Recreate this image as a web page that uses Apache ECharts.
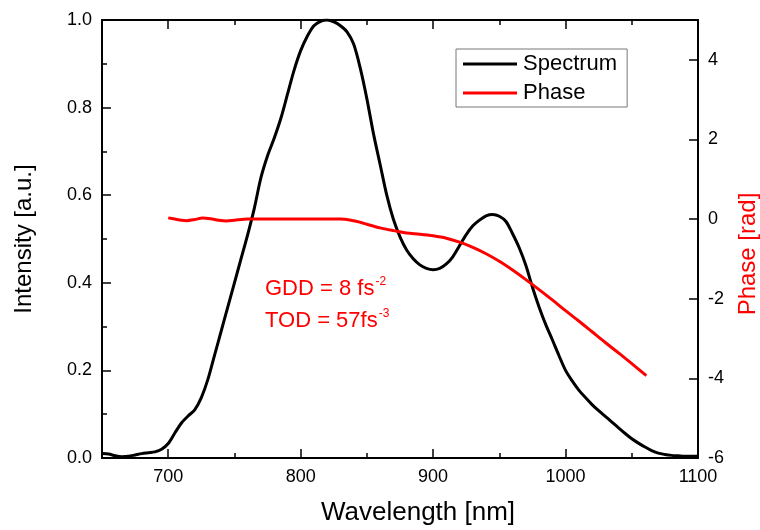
<!DOCTYPE html>
<html>
<head>
<meta charset="utf-8">
<script src="https://cdn.jsdelivr.net/npm/echarts@6/dist/echarts.min.js"></script>
<style>
html,body{margin:0;padding:0;background:#fff;}
#chart{width:760px;height:530px;}
</style>
</head>
<body>
<div id="chart"></div>
<script>
// ---- data ----
var spectrumWl = [650,655,660,665,670,675,680,685,690,695,700,705,710,715,720,725,730,735,740,745,750,755,760,765,770,775,780,785,790,795,800,805,810,815,820,825,830,835,840,845,850,855,860,865,870,875,880,885,890,895,900,905,910,915,920,925,930,935,940,945,950,955,960,965,970,975,980,985,990,995,1000,1005,1010,1015,1020,1025,1030,1035,1040,1045,1050,1055,1060,1065,1070,1075,1080,1085,1090,1095,1100];
var spectrumVal = [0.010,0.009,0.005,0.003,0.004,0.007,0.010,0.012,0.014,0.020,0.033,0.057,0.080,0.096,0.110,0.138,0.180,0.235,0.290,0.345,0.400,0.455,0.510,0.570,0.640,0.690,0.730,0.775,0.830,0.885,0.930,0.963,0.987,0.997,1.000,0.996,0.987,0.973,0.945,0.890,0.820,0.740,0.670,0.600,0.545,0.505,0.475,0.455,0.441,0.433,0.430,0.433,0.443,0.460,0.485,0.510,0.530,0.543,0.553,0.556,0.552,0.540,0.512,0.480,0.440,0.390,0.345,0.305,0.270,0.234,0.200,0.176,0.155,0.138,0.122,0.108,0.095,0.082,0.069,0.056,0.044,0.034,0.025,0.017,0.011,0.008,0.006,0.005,0.004,0.004,0.004];
var phaseWl = [700,705,710,714,720,726,732,738,744,750,760,780,800,820,830,840,845,850,860,870,875,880,890,900,910,920,930,940,950,960,970,980,990,1000,1010,1020,1030,1040,1050,1061];
var phaseVal = [0.03,0.0,-0.03,-0.04,-0.01,0.03,0.01,-0.03,-0.05,-0.03,0.0,0.0,0.0,0.0,0.0,-0.04,-0.08,-0.13,-0.22,-0.29,-0.32,-0.35,-0.38,-0.42,-0.48,-0.58,-0.71,-0.87,-1.06,-1.28,-1.52,-1.77,-2.03,-2.3,-2.56,-2.83,-3.1,-3.36,-3.63,-3.93];
var xMajorTicks = [700,800,900,1000,1100];
var xMinorTicks = [750,850,950,1050];
var phaseTicks = [-6,-4,-2,0,2,4];
var seriesNames = ['Spectrum','Phase'];
var annotationLines = [['GDD = 8 fs','-2'],['TOD = 57fs','-3']];

var FONT = 'Liberation Sans, Arial, sans-serif';
function pairs(xs, ys){ return xs.map(function(x,i){return [x, ys[i]];}); }

function xAx(extra){
  var o = {type:'value', min:650, max:1100, splitLine:{show:false}};
  for (var k in extra) o[k]=extra[k];
  return o;
}
var tickLS = {color:'#000', width:1.5};

var chart = echarts.init(document.getElementById('chart'), null, {renderer:'canvas'});
chart.setOption({
  animation:false,
  backgroundColor:'#fff',
  grid:{left:102, right:62, top:20, bottom:72, containLabel:false, outerBoundsMode:'none'},
  legend:{
    orient:'vertical', left:456, top:49,
    data:[{name:seriesNames[0], icon:'rect'},{name:seriesNames[1], icon:'rect'}],
    itemWidth:54, itemHeight:3, itemGap:7,
    padding:[4,10,3,7],
    borderColor:'#777', borderWidth:1,
    textStyle:{fontFamily:FONT, fontSize:22, color:'#000', lineHeight:22, padding:[0,0,0,1]}
  },
  xAxis:[
    xAx({position:'bottom', name:'Wavelength [nm]', nameLocation:'middle', nameGap:42,
      nameTextStyle:{fontFamily:FONT, fontSize:26, color:'#000', padding:[0,0,0,36]},
      axisLine:{show:true, onZero:false, lineStyle:{color:'#000', width:2}},
      axisTick:{show:true, inside:true, length:9, customValues:xMajorTicks, lineStyle:tickLS},
      axisLabel:{show:true, customValues:xMajorTicks, fontFamily:FONT, fontSize:18, color:'#000', margin:10,
        formatter:function(v){return String(v);}}}),
    xAx({position:'bottom',
      axisLine:{show:false, onZero:false},
      axisTick:{show:true, inside:true, length:5, customValues:xMinorTicks, lineStyle:tickLS},
      axisLabel:{show:false}}),
    xAx({position:'top',
      axisLine:{show:true, onZero:false, lineStyle:{color:'#000', width:2}},
      axisTick:{show:true, inside:true, length:9, customValues:xMajorTicks, lineStyle:tickLS},
      axisLabel:{show:false}}),
    xAx({position:'top',
      axisLine:{show:false, onZero:false},
      axisTick:{show:true, inside:true, length:5, customValues:xMinorTicks, lineStyle:tickLS},
      axisLabel:{show:false}})
  ],
  yAxis:[
    {type:'value', position:'left', min:0, max:1, interval:0.2,
      name:'Intensity [a.u.]', nameLocation:'middle', nameGap:66,
      nameTextStyle:{fontFamily:FONT, fontSize:24, color:'#000'},
      splitLine:{show:false},
      axisLine:{show:true, onZero:false, lineStyle:{color:'#000', width:2}},
      axisTick:{show:true, inside:true, length:9, lineStyle:tickLS},
      minorTick:{show:true, splitNumber:2, length:5, lineStyle:tickLS},
      axisLabel:{fontFamily:FONT, fontSize:18, color:'#000', margin:10, formatter:function(v){return v.toFixed(1);}}},
    {type:'value', position:'right', min:-6, max:5, interval:2,
      name:'Phase [rad]', nameLocation:'middle', nameGap:38,
      nameTextStyle:{fontFamily:FONT, fontSize:24, color:'#ff0000', padding:[0,30,0,0]},
      splitLine:{show:false},
      axisLine:{show:true, onZero:false, lineStyle:{color:'#000', width:2}},
      axisTick:{show:true, inside:true, length:9, customValues:phaseTicks, lineStyle:tickLS},
      axisLabel:{fontFamily:FONT, fontSize:18, color:'#000', margin:10, customValues:phaseTicks,
        formatter:function(v){return String(v);}}}
  ],
  series:[
    {name:seriesNames[0], type:'line', xAxisIndex:0, yAxisIndex:0, data:pairs(spectrumWl, spectrumVal),
      smooth:0.3, showSymbol:false, symbol:'none', color:'#000',
      lineStyle:{color:'#000', width:3}, z:3},
    {name:seriesNames[1], type:'line', xAxisIndex:0, yAxisIndex:1, data:pairs(phaseWl, phaseVal),
      smooth:0.3, showSymbol:false, symbol:'none', color:'#ff0000',
      lineStyle:{color:'#ff0000', width:3}, z:4}
  ],
  graphic:[
    {type:'text', left:265, top:276,
      style:{
        text: annotationLines.map(function(l){return '{m|'+l[0]+'}{s|'+l[1]+'}';}).join('\n'),
        rich:{
          m:{fontFamily:FONT, fontSize:22, fill:'#ff0000', lineHeight:32},
          s:{fontFamily:FONT, fontSize:12, fill:'#ff0000', lineHeight:32, padding:[0,0,14,1]}
        }
      }}
  ]
});
</script>
</body>
</html>
